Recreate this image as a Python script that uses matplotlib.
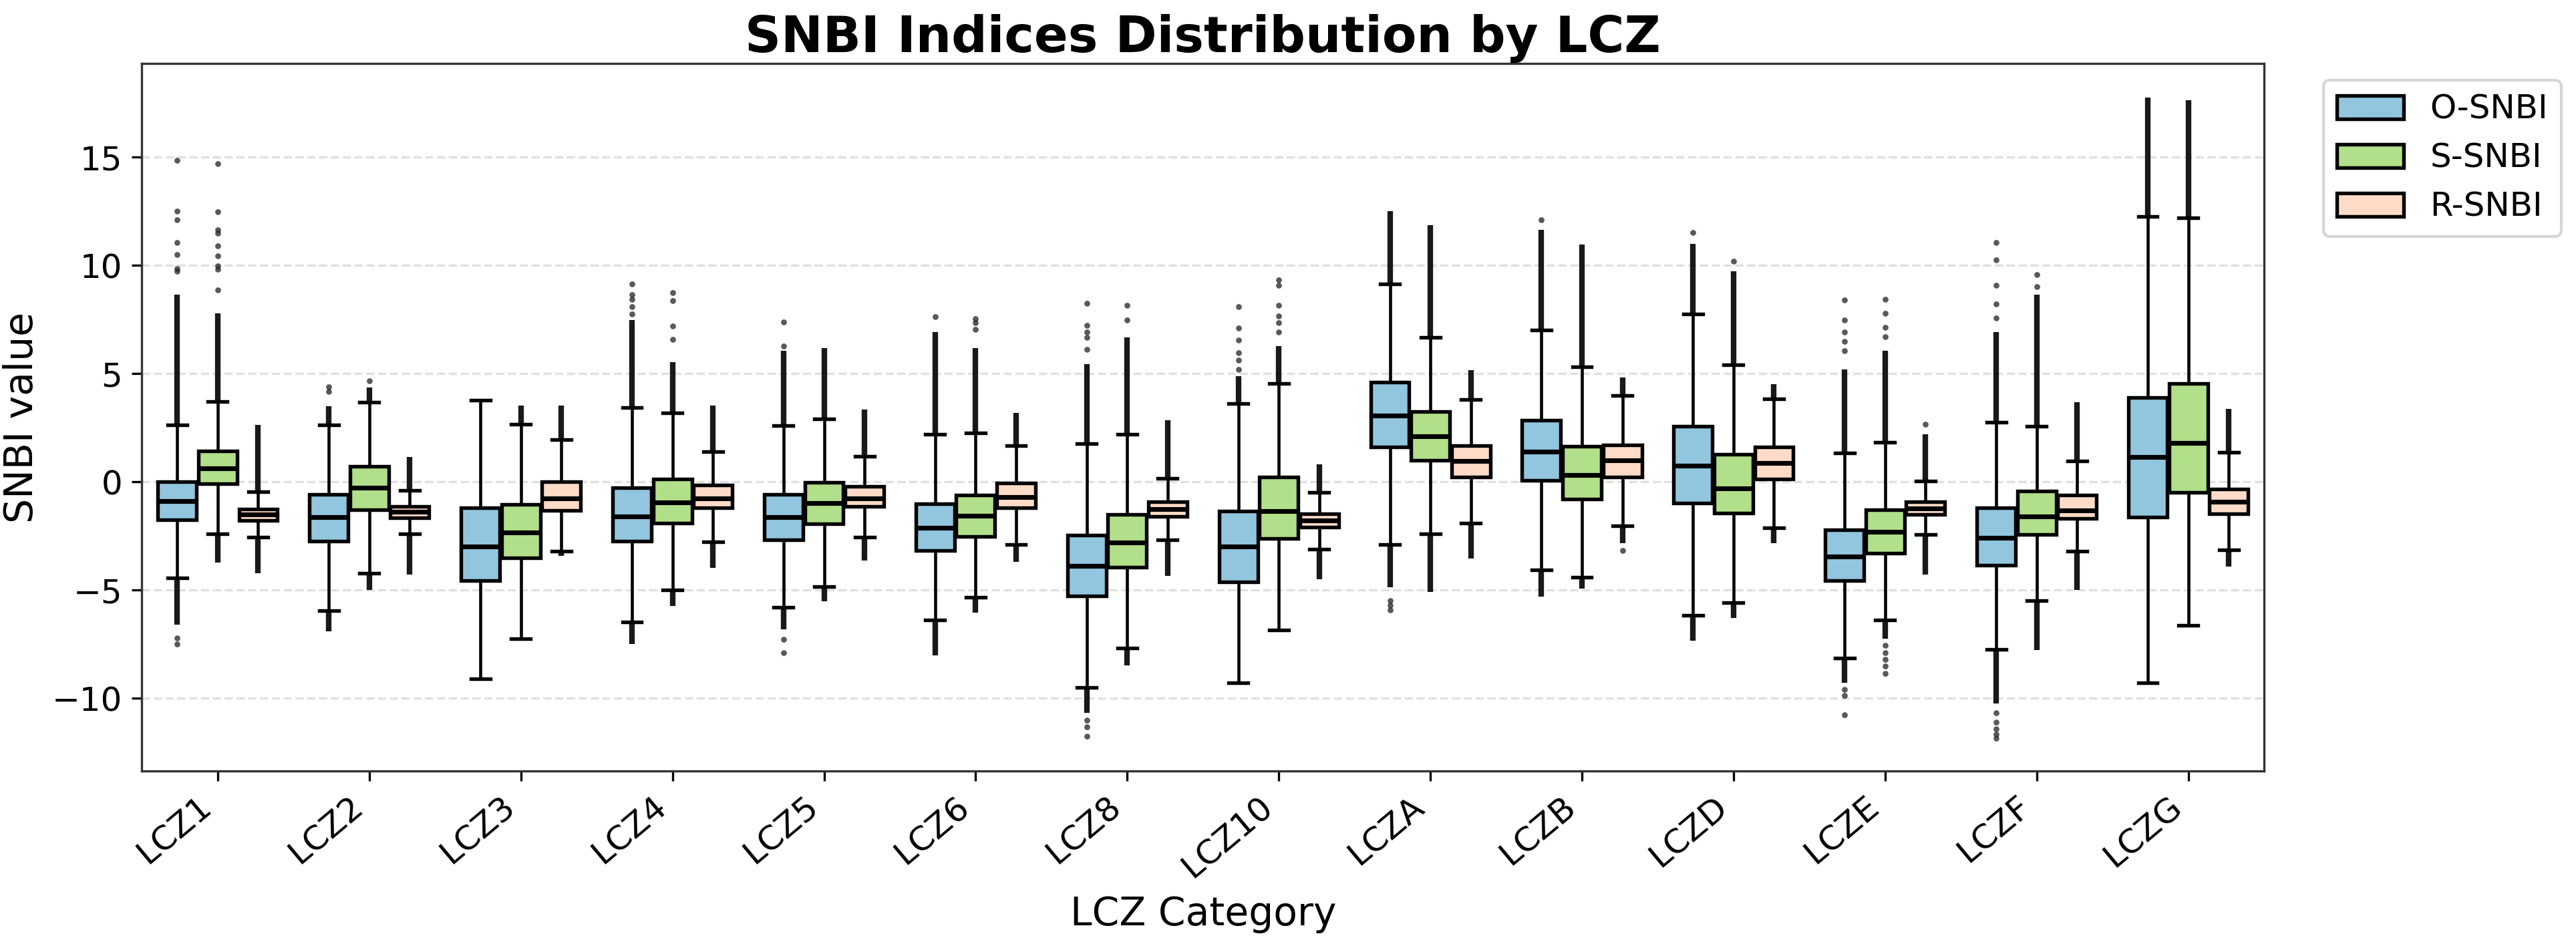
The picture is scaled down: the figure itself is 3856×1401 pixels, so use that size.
import numpy as np
import matplotlib
matplotlib.use("Agg")
import matplotlib.pyplot as plt
from matplotlib.patches import Patch

nan = np.nan

categories = ['LCZ1', 'LCZ2', 'LCZ3', 'LCZ4', 'LCZ5', 'LCZ6', 'LCZ8', 'LCZ10',
              'LCZA', 'LCZB', 'LCZD', 'LCZE', 'LCZF', 'LCZG']
series = ['O-SNBI', 'S-SNBI', 'R-SNBI']
colors = ['#92c5de', '#b2df8a', '#fddbc7']

# O-SNBI box stats
o_q1 = [-1.76, -2.73, -4.55, -2.73, -2.66, -3.18, -5.26, -4.61, 1.61, 0.06, -0.97, -4.57, -3.84, -1.61]
o_med = [-0.88, -1.63, -2.98, -1.59, -1.61, -2.12, -3.88, -2.98, 3.07, 1.39, 0.75, -3.43, -2.58, 1.16]
o_q3 = [0.0, -0.58, -1.18, -0.28, -0.58, -1.01, -2.47, -1.35, 4.61, 2.85, 2.58, -2.21, -1.18, 3.91]
o_whislo = [-4.44, -5.94, -9.1, -6.48, -5.79, -6.37, -9.48, -9.29, -2.9, -4.06, -6.16, -8.13, -7.73, -9.29]
o_whishi = [2.62, 2.62, 3.78, 3.45, 2.6, 2.21, 1.78, 3.63, 9.14, 7.02, 7.77, 1.35, 2.75, 12.25]
# extent of the continuous column of outliers above / below the whiskers
o_dense_hi = [8.65, 3.5, nan, 7.47, 6.07, 6.93, 5.43, 4.89, 12.5, 11.65, 11.0, 5.21, 6.93, 17.77]
o_dense_lo = [-6.6, -6.9, nan, -7.49, -6.8, -8.0, -10.67, nan, -4.87, -5.3, -7.34, -9.27, -10.24, nan]
o_sparse = [
    [9.72, 9.87, 10.5, 11.05, 12.1, 12.5, 14.85, -7.2, -7.5],
    [4.18, 4.4],
    [],
    [7.75, 8.1, 8.43, 8.65, 9.16],
    [6.27, 7.4, -7.27, -7.88],
    [7.62],
    [6.12, 6.67, 6.93, 7.23, 8.26, -10.99, -11.3, -11.74],
    [5.21, 5.64, 5.97, 6.55, 7.1, 8.11],
    [-5.47, -5.69, -5.9],
    [12.12],
    [11.52],
    [6.07, 6.5, 6.93, 7.47, 8.41, -9.59, -9.85, -10.75],
    [7.58, 8.22, 9.08, 10.26, 11.05, -10.67, -11.1, -11.42, -11.64, -11.85],
    [],
]

# S-SNBI
s_q1 = [-0.09, -1.27, -3.52, -1.91, -1.93, -2.51, -3.95, -2.6, 0.99, -0.79, -1.44, -3.28, -2.42, -0.49]
s_med = [0.64, -0.28, -2.34, -0.94, -0.97, -1.55, -2.81, -1.35, 2.1, 0.32, -0.3, -2.3, -1.59, 1.8]
s_q3 = [1.44, 0.71, -1.05, 0.13, -0.02, -0.62, -1.5, 0.24, 3.24, 1.65, 1.29, -1.27, -0.43, 4.55]
s_whislo = [-2.4, -4.23, -7.23, -4.98, -4.83, -5.34, -7.66, -6.85, -2.4, -4.4, -5.58, -6.37, -5.47, -6.63]
s_whishi = [3.73, 3.67, 2.68, 3.18, 2.9, 2.25, 2.21, 4.55, 6.67, 5.32, 5.41, 1.82, 2.58, 12.19]
s_dense_hi = [7.8, 4.36, 3.54, 5.54, 6.18, 6.18, 6.67, 6.29, 11.87, 10.97, 9.72, 6.07, 8.65, 17.62]
s_dense_lo = [-3.73, -4.98, nan, -5.73, -5.52, -6.05, -8.48, nan, -5.09, -4.91, -6.27, -7.23, -7.77, nan]
s_sparse = [
    [8.86, 9.83, 9.98, 10.45, 10.9, 11.5, 11.65, 12.47, 14.7],
    [4.66],
    [],
    [6.6, 7.19, 8.37, 8.76],
    [],
    [7.06, 7.36, 7.53],
    [7.47, 8.15],
    [6.93, 7.36, 7.68, 8.15, 9.08, 9.33],
    [],
    [],
    [10.21],
    [6.72, 7.15, 7.79, 8.43, -7.55, -7.88, -8.2, -8.52, -8.84],
    [9.01, 9.59],
    [],
]

# R-SNBI
r_q1 = [-1.78, -1.65, -1.31, -1.18, -1.14, -1.18, -1.59, -2.08, 0.24, 0.24, 0.13, -1.5, -1.67, -1.46]
r_med = [-1.5, -1.37, -0.75, -0.75, -0.75, -0.71, -1.24, -1.78, 0.97, 0.99, 0.88, -1.22, -1.33, -0.9]
r_q3 = [-1.24, -1.12, 0.0, -0.15, -0.21, -0.04, -0.9, -1.48, 1.67, 1.72, 1.61, -0.9, -0.62, -0.32]
r_whislo = [-2.55, -2.4, -3.2, -2.75, -2.55, -2.88, -2.66, -3.09, -1.91, -2.04, -2.12, -2.42, -3.2, -3.13]
r_whishi = [-0.45, -0.39, 1.95, 1.39, 1.18, 1.67, 0.17, -0.47, 3.82, 3.99, 3.84, 0.04, 0.97, 1.37]
r_dense_hi = [2.64, 1.14, 3.54, 3.54, 3.33, 3.18, 2.85, 0.82, 5.17, 4.83, 4.53, 2.21, 3.67, 3.39]
r_dense_lo = [-4.23, -4.27, -3.41, -3.97, -3.63, -3.69, -4.33, -4.48, -3.54, -2.83, -2.83, -4.27, -4.98, -3.91]
r_sparse = [[], [], [], [], [], [], [], [], [], [-3.18], [], [2.68], [], []]

groups = [
    (o_q1, o_med, o_q3, o_whislo, o_whishi, o_dense_lo, o_dense_hi, o_sparse),
    (s_q1, s_med, s_q3, s_whislo, s_whishi, s_dense_lo, s_dense_hi, s_sparse),
    (r_q1, r_med, r_q3, r_whislo, r_whishi, r_dense_lo, r_dense_hi, r_sparse),
]

fig = plt.figure(figsize=(3856 / 300, 1401 / 300), dpi=300)
ax = fig.add_axes([0.0551, 0.1763, 0.8238, 0.7559])

offsets = [-0.267, 0.0, 0.267]
box_w = 0.255
x = np.arange(len(categories))

for k, (q1, med, q3, wlo, whi, dlo, dhi, sparse) in enumerate(groups):
    pos = x + offsets[k]
    stats = []
    for i in range(len(categories)):
        stats.append({'q1': q1[i], 'med': med[i], 'q3': q3[i],
                      'whislo': wlo[i], 'whishi': whi[i], 'fliers': sparse[i]})
    ax.bxp(stats, positions=pos, widths=box_w, patch_artist=True,
           boxprops=dict(facecolor=colors[k], edgecolor='black', linewidth=1.3),
           medianprops=dict(color='black', linewidth=1.7),
           whiskerprops=dict(color='black', linewidth=1.1),
           capprops=dict(color='black', linewidth=1.3),
           flierprops=dict(marker='o', markersize=2.1, markerfacecolor='#222222',
                           markeredgecolor='none', alpha=0.75),
           manage_ticks=False)
    # dense runs of outliers
    hi = np.array(dhi)
    lo = np.array(dlo)
    m = ~np.isnan(hi)
    ax.vlines(pos[m], np.array(whi)[m], hi[m], color='black', linewidth=2.0, alpha=0.9)
    m = ~np.isnan(lo)
    ax.vlines(pos[m], lo[m], np.array(wlo)[m], color='black', linewidth=2.0, alpha=0.9)

ax.set_xlim(-0.5, len(categories) - 0.5)
ax.set_ylim(-13.35, 19.33)
ax.set_xticks(x)
ax.set_xticklabels(categories, rotation=40, ha='right', fontsize=12)
ax.tick_params(axis='y', labelsize=12)
ax.yaxis.grid(True, linestyle='--', color='#d9d9d9', linewidth=0.8, alpha=0.8)
ax.set_axisbelow(True)
for sp in ax.spines.values():
    sp.set_color('#333333')
    sp.set_linewidth(0.8)

ax.set_title('SNBI Indices Distribution by LCZ', fontsize=18, fontweight='bold', pad=4)
ax.set_xlabel('LCZ Category', fontsize=14)
ax.set_ylabel('SNBI value', fontsize=14)

handles = [Patch(facecolor=c, edgecolor='black', linewidth=1.3, label=s) for s, c in zip(series, colors)]
ax.legend(handles=handles, loc='upper left', bbox_to_anchor=(1.02, 1), fontsize=12)

fig.savefig('out.png', dpi=300)
